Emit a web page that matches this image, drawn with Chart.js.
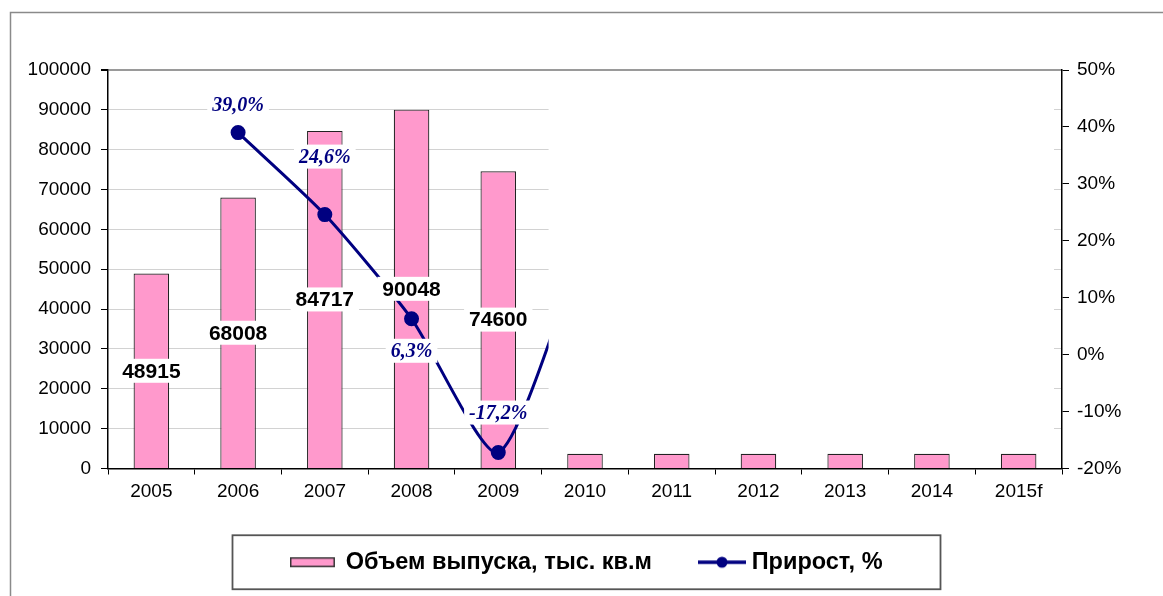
<!DOCTYPE html>
<html>
<head>
<meta charset="utf-8">
<script src="https://cdn.jsdelivr.net/npm/chart.js@4/dist/chart.umd.min.js"></script>
<style>
  html, body { margin: 0; padding: 0; background: #fff; }
</style>
</head>
<body>
<canvas id="myChart" width="1163" height="596"></canvas>
<script>
// data
const years = ['2005', '2006', '2007', '2008', '2009', '2010', '2011', '2012', '2013', '2014', '2015f'];
const volume = [48915, 68008, 84717, 90048, 74600, 3700, 3700, 3700, 3700, 3700, 3700];
const growth = [null, 39.0, 24.6, 6.3, -17.2, 20, null, null, null, null, null];
const volumeTicks = [0, 10000, 20000, 30000, 40000, 50000, 60000, 70000, 80000, 90000, 100000];
const growthTicks = [-20, -10, 0, 10, 20, 30, 40, 50];

const PINK = '#ff99cc';
const NAVY = '#000080';

// label nudges (px) for the growth labels, null = no label
const growthLabelDy = [null, -28, -58, 32, -40, null, null, null, null, null, null];
// right part of the plot is blanked out in the original picture
const blankFrom = 4.58;

function makeSwatch(kind) {
    const c = document.createElement('canvas');
    c.width = 50;
    c.height = 16;
    const g = c.getContext('2d');
    if (kind === 'bar') {
        g.fillStyle = PINK;
        g.fillRect(0, 3, 45, 10);
        g.strokeStyle = '#333';
        g.lineWidth = 1.5;
        g.strokeRect(0.75, 3.75, 43.5, 8.5);
    } else {
        g.strokeStyle = NAVY;
        g.lineWidth = 3.5;
        g.beginPath();
        g.moveTo(2, 8);
        g.lineTo(50, 8);
        g.stroke();
        g.fillStyle = NAVY;
        g.beginPath();
        g.arc(26, 8, 5.5, 0, Math.PI * 2);
        g.fill();
    }
    return c;
}
const swatches = [makeSwatch('bar'), makeSwatch('line')];

function boxLabel(ctx, text, x, y, font, color) {
    ctx.font = font;
    const w = ctx.measureText(text).width + 10;
    const h = 24;
    ctx.fillStyle = '#fff';
    ctx.fillRect(x - w / 2, y - h / 2, w, h);
    ctx.fillStyle = color;
    ctx.textAlign = 'center';
    ctx.textBaseline = 'middle';
    ctx.fillText(text, x, y + 1);
}

const framePlugin = {
    id: 'frame',
    beforeDraw(chart) {
        const ctx = chart.ctx;
        ctx.save();
        ctx.fillStyle = '#fff';
        ctx.fillRect(0, 0, chart.width, chart.height);
        ctx.strokeStyle = '#8a8a8a';
        ctx.lineWidth = 1.5;
        ctx.strokeRect(10.5, 12.5, chart.width + 50, chart.height + 50);
        ctx.restore();
    },
    afterDatasetsDraw(chart) {
        const {ctx, chartArea, scales} = chart;
        ctx.save();
        // white patch over the right half, as in the original
        const x0 = scales.x.getPixelForValue(blankFrom);
        const yb = scales.y.getPixelForValue(5800);
        ctx.fillStyle = '#fff';
        ctx.fillRect(x0, chartArea.top + 2, chartArea.right - 8 - x0, yb - chartArea.top - 2);

        // bar value labels
        const barMeta = chart.getDatasetMeta(0);
        barMeta.data.forEach((bar, i) => {
            if (i >= blankFrom) return;
            const y = (bar.y + bar.base) / 2;
            boxLabel(ctx, String(volume[i]), bar.x, y, 'bold 21px "Liberation Sans", Arial', '#000');
        });

        // growth labels
        const lineMeta = chart.getDatasetMeta(1);
        lineMeta.data.forEach((pt, i) => {
            if (growthLabelDy[i] == null || growth[i] == null) return;
            const txt = growth[i].toFixed(1).replace('.', ',') + '%';
            boxLabel(ctx, txt, pt.x, pt.y + growthLabelDy[i], 'italic bold 20px "Liberation Serif", "Times New Roman"', NAVY);
        });

        // legend frame
        const lg = chart.legend;
        if (lg && lg.legendHitBoxes.length) {
            const hb = lg.legendHitBoxes;
            const cy = hb[0].top + hb[0].height / 2;
            ctx.strokeStyle = '#555';
            ctx.lineWidth = 1.8;
            ctx.strokeRect(232.5, cy - 27, 708, 54);
        }
        ctx.restore();
    }
};

const tickFont = { family: '"Liberation Sans", Arial', size: 19 };

const ctx = document.getElementById('myChart').getContext('2d');
new Chart(ctx, {
    data: {
        labels: years,
        datasets: [{
            type: 'bar',
            label: 'Объем выпуска, тыс. кв.м',
            data: volume,
            backgroundColor: PINK,
            borderColor: '#222',
            borderWidth: 1.2,
            barPercentage: 0.41,
            categoryPercentage: 1,
            yAxisID: 'y',
            order: 2
        }, {
            type: 'line',
            label: 'Прирост, %',
            data: growth,
            borderColor: NAVY,
            backgroundColor: NAVY,
            borderWidth: 3,
            pointRadius: 6,
            pointHoverRadius: 6,
            tension: 0.22,
            spanGaps: false,
            yAxisID: 'y1',
            order: 1
        }]
    },
    options: {
        responsive: false,
        animation: false,
        events: [],
        layout: { padding: { top: 70, left: 15.5, right: 0, bottom: 12 } },
        scales: {
            x: {
                offset: true,
                grid: { offset: true, drawOnChartArea: false, tickLength: 6, color: '#000' },
                border: { color: '#000', width: 1.5 },
                ticks: { color: '#000', font: tickFont, padding: 6 },
                afterFit(s) { s.height = 32; }
            },
            y: {
                position: 'left',
                min: 0,
                max: 100000,
                afterBuildTicks(s) { s.ticks = volumeTicks.map(v => ({ value: v })); },
                grid: {
                    color: c => (c.tick && c.tick.value === 100000 ? '#9a9a9a' : '#d2d2d2'),
                    lineWidth: c => (c.tick && c.tick.value === 100000 ? 2 : 1),
                    tickColor: '#000',
                    tickLength: 7
                },
                border: { color: '#000', width: 1.5 },
                ticks: {
                    color: '#000',
                    font: tickFont,
                    padding: 10,
                    callback: v => String(v)
                },
                afterFit(s) { s.width = 92.5; }
            },
            y1: {
                position: 'right',
                min: -20,
                max: 50,
                afterBuildTicks(s) { s.ticks = growthTicks.map(v => ({ value: v })); },
                grid: { drawOnChartArea: false, tickColor: '#000', tickLength: 7 },
                border: { color: '#000', width: 1.5 },
                ticks: {
                    color: '#000',
                    font: tickFont,
                    padding: 8,
                    callback: v => v + '%'
                },
                afterFit(s) { s.width = 101; }
            }
        },
        plugins: {
            tooltip: { enabled: false },
            legend: {
                position: 'bottom',
                labels: {
                    usePointStyle: true,
                    pointStyleWidth: 38,
                    boxHeight: 16,
                    padding: 50,
                    color: '#000',
                    font: { family: '"Liberation Sans", Arial', size: 23.5, weight: 'bold' },
                    generateLabels(chart) {
                        return chart.data.datasets.map((ds, i) => ({
                            text: ds.label,
                            pointStyle: swatches[i],
                            datasetIndex: i,
                            hidden: false,
                            fillStyle: 'transparent',
                            strokeStyle: 'transparent',
                            lineWidth: 0
                        }));
                    }
                }
            }
        }
    },
    plugins: [framePlugin]
});
</script>
</body>
</html>
